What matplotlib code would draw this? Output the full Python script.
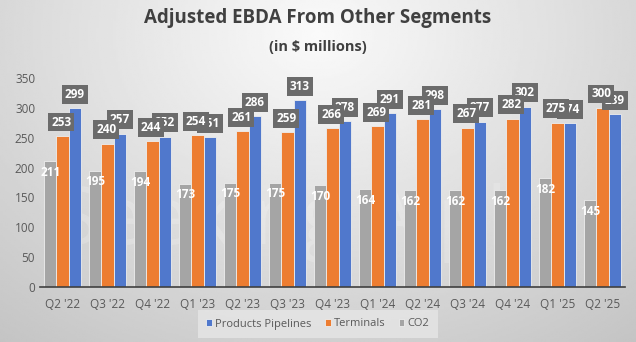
import numpy as np
import matplotlib
matplotlib.use("Agg")
import matplotlib.pyplot as plt
from matplotlib import font_manager

quarters = ["Q2 '22", "Q3 '22", "Q4 '22", "Q1 '23", "Q2 '23", "Q3 '23", "Q4 '23",
            "Q1 '24", "Q2 '24", "Q3 '24", "Q4 '24", "Q1 '25", "Q2 '25"]
products = [299, 257, 252, 251, 286, 313, 278, 291, 298, 277, 302, 274, 289]
terminals = [253, 240, 244, 254, 261, 259, 266, 269, 281, 267, 282, 275, 300]
co2 = [211, 195, 194, 173, 175, 175, 170, 164, 162, 162, 162, 182, 145]

plt.rcParams['font.family'] = ['Open Sans', 'DejaVu Sans']
names = {f.name for f in font_manager.fontManager.ttflist}
narrow = 'Liberation Sans Narrow' if 'Liberation Sans Narrow' in names else 'Open Sans'

fig = plt.figure(figsize=(6.36, 3.42), dpi=100)

# gradient background
bg = fig.add_axes([0, 0, 1, 1], zorder=-10)
yy, xx = np.mgrid[0:1:200j, 0:1:300j]
r = np.sqrt(((xx - 0.5) / 0.75) ** 2 + ((yy - 0.1) / 1.1) ** 2)
bg.imshow(0.98 - 0.2 * r, cmap='gray', vmin=0, vmax=1, aspect='auto', extent=[0, 1, 1, 0])
bg.set_axis_off()
bg.text(0.5, 0.35, "Seeking Alpha", fontsize=58, color='white', alpha=0.18,
        ha='center', va='center', transform=bg.transAxes)

ax = fig.add_axes([40 / 636, 1 - 287 / 342, 585 / 636, 209 / 342])
ax.set_facecolor('none')

x = np.arange(len(quarters))
w = 0.27
c_blue, c_orange, c_gray = '#5078CC', '#ED7D31', '#A5A5A5'
b_gray = ax.bar(x - w, co2, w, color=c_gray, edgecolor='#eeeeee', linewidth=0.6, label='CO2')
b_orange = ax.bar(x, terminals, w, color=c_orange, edgecolor='#eeeeee', linewidth=0.6, label='Terminals')
b_blue = ax.bar(x + w, products, w, color=c_blue, edgecolor='#eeeeee', linewidth=0.6, label='Products Pipelines')

box = dict(boxstyle='square,pad=0.25', fc='#6b6b6b', ec='none')
for xi, v in zip(x, products):
    ax.annotate(str(v), (xi + w, v), xytext=(0, 10), textcoords='offset points', ha='center',
                va='center', color='white', fontsize=8.5, fontweight='bold', bbox=box, zorder=4)
for xi, v in zip(x, terminals):
    ax.annotate(str(v), (xi, v), xytext=(-1, 10), textcoords='offset points', ha='center',
                va='center', color='white', fontsize=8.5, fontweight='bold', bbox=box, zorder=5)
for xi, v in zip(x, co2):
    ax.annotate(str(v), (xi - w, v), xytext=(0, -8), textcoords='offset points', ha='center',
                va='center', color='white', fontsize=8.5, fontweight='bold')

ax.set_ylim(0, 350)
ax.set_xlim(-0.5, len(quarters) - 0.5)
ax.set_yticks(range(0, 351, 50))
ax.set_xticks(x)
ax.set_xticklabels(quarters)
ax.tick_params(axis='both', length=0, labelsize=8.5, colors='#595959')
ax.tick_params(axis='x', pad=8)
for lab in ax.get_xticklabels() + ax.get_yticklabels():
    lab.set_family(narrow)
for s in ['top', 'right', 'left']:
    ax.spines[s].set_visible(False)
ax.spines['bottom'].set_color('#404040')
ax.spines['bottom'].set_linewidth(1.2)

fig.text(0.5, 1 - 18 / 342, "Adjusted EBDA From Other Segments", ha='center', va='center',
         fontsize=13.5, fontweight='bold', color='#404040')
fig.text(0.5, 1 - 47 / 342, "(in $ millions)", ha='center', va='center',
         fontsize=10.5, fontweight='bold', color='#404040')

handles = [b_blue, b_orange, b_gray]
leg = fig.legend(handles, [h.get_label() for h in handles], loc='center', ncol=3,
                 bbox_to_anchor=(0.5, 1 - 324 / 342), frameon=True,
                 prop={'family': narrow, 'size': 8},
                 handlelength=0.5, handleheight=0.5, handletextpad=0.3, columnspacing=1.2,
                 borderpad=0.5)
leg.get_frame().set_facecolor('#e6e6e6')
leg.get_frame().set_edgecolor('none')
leg.get_frame().set_alpha(0.8)
leg.get_frame().set_boxstyle('square')
for t in leg.get_texts():
    t.set_color('#595959')

fig.savefig('out.png', dpi=100)
